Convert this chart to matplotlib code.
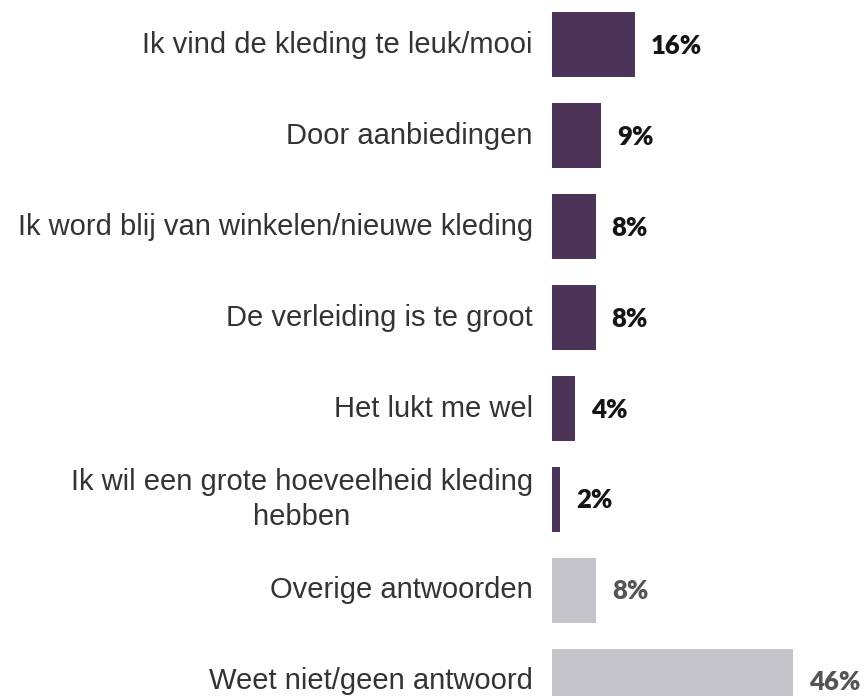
import matplotlib
matplotlib.use("Agg")
import matplotlib.pyplot as plt
import matplotlib.transforms as mtransforms

# answers and shares (bar lengths, labels rounded)
categories = [
    "Ik vind de kleding te leuk/mooi",
    "Door aanbiedingen",
    "Ik word blij van winkelen/nieuwe kleding",
    "De verleiding is te groot",
    "Het lukt me wel",
    "Ik wil een grote hoeveelheid kleding\nhebben",
    "Overige antwoorden",
    "Weet niet/geen antwoord",
]
values = [15.9, 9.4, 8.4, 8.4, 4.5, 1.5, 8.5, 46.3]
is_other = [False, False, False, False, False, False, True, True]

purple = "#4b3457"
grey = "#c5c4ca"

fig = plt.figure(figsize=(8.67, 6.96), dpi=100)
ax = fig.add_axes([552 / 867, 0, 315 / 867, 1])

ypos = list(range(len(categories)))
colors = [grey if o else purple for o in is_other]
ax.barh(ypos, values, height=0.715, color=colors)

ax.set_xlim(0, 315 / 5.2)
ax.set_ylim(7.162, -0.495)
ax.axis("off")

lab_off = mtransforms.offset_copy(ax.transData, fig=fig, x=-19, y=0, units="dots")
val_off = mtransforms.offset_copy(ax.transData, fig=fig, x=16, y=-1, units="dots")
for y, v, cat, o in zip(ypos, values, categories, is_other):
    ax.text(0, y, cat, transform=lab_off, ha="right", va="center",
            multialignment="center", fontsize=21, linespacing=1.35,
            color="#333333", family="Liberation Sans", clip_on=False)
    ax.text(v, y, f"{v:.0f}%", transform=val_off, ha="left", va="center",
            fontsize=18.5, fontweight="heavy", family="Lato",
            color="#555555" if o else "#151515", clip_on=False)

fig.savefig("out.png", dpi=100)
